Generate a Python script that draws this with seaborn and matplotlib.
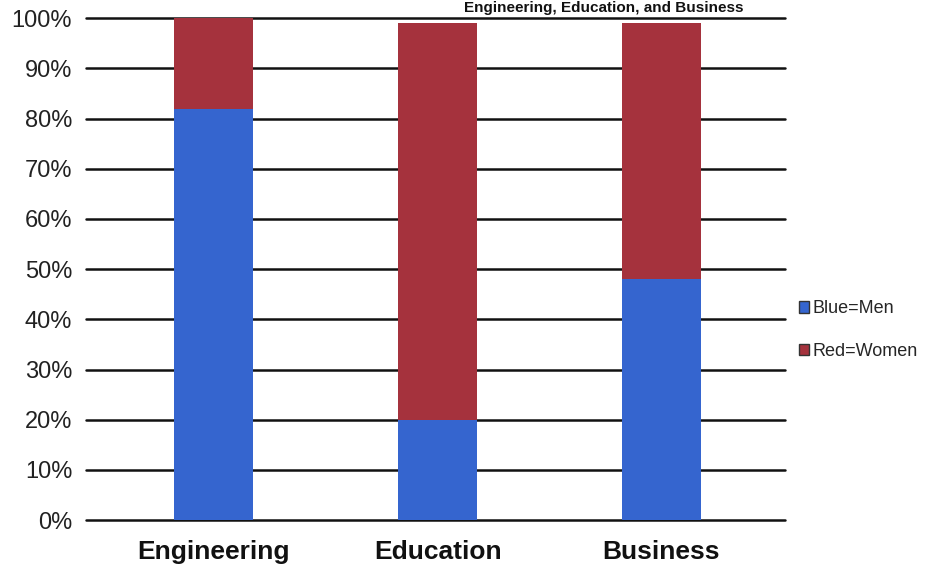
import matplotlib
matplotlib.use("Agg")
import matplotlib.pyplot as plt
import seaborn as sns
import pandas as pd
from matplotlib.patches import Patch

categories = ["Engineering", "Education", "Business"]
men = [82, 20, 48]
women = [18, 79, 51]
y_ticks = [0, 10, 20, 30, 40, 50, 60, 70, 80, 90, 100]
y_tick_labels = [f"{v}%" for v in y_ticks]
title_text = "Engineering, Education, and Business"

blue = "#3565cf"
red = "#a5323d"

sns.set_theme(style="white")
plt.rcParams['font.family'] = ['Liberation Sans', 'DejaVu Sans']

df = pd.DataFrame({"category": categories, "men": men,
                   "total": [m + w for m, w in zip(men, women)]})

fig = plt.figure(figsize=(9.29, 5.69), dpi=100)
ax = fig.add_axes([0.0926, 0.086, 0.752, 0.882])

sns.barplot(data=df, x="category", y="total", color=red, width=0.35,
            saturation=1, linewidth=0, ax=ax, zorder=3)
sns.barplot(data=df, x="category", y="men", color=blue, width=0.35,
            saturation=1, linewidth=0, ax=ax, zorder=4)

ax.set_xlim(-0.57, 2.55)
ax.set_ylim(0, 100)
ax.set_yticks(y_ticks)
ax.set_yticklabels(y_tick_labels, fontsize=17, color="#222222")
ax.set_xlabel("")
ax.set_ylabel("")
ax.tick_params(axis="x", labelsize=19, length=0, pad=14)
for lab in ax.get_xticklabels():
    lab.set_fontweight("bold")
    lab.set_color("#111111")
ax.tick_params(axis="y", length=0, pad=10)
for sp in ax.spines.values():
    sp.set_visible(False)
for v in y_ticks:
    ax.axhline(v, color="#111111", linewidth=1.8, zorder=1, clip_on=False)

handles = [Patch(facecolor=blue, edgecolor="#333333", label="Blue=Men"),
           Patch(facecolor=red, edgecolor="#333333", label="Red=Women")]
fig.legend(handles=handles, loc="center left", bbox_to_anchor=(0.848, 0.42),
           frameon=False, fontsize=13, handlelength=0.6, handleheight=0.6,
           handletextpad=0.15, labelspacing=1.4, borderaxespad=0.2)

fig.text(0.50, 0.998, title_text, fontsize=11, fontweight="bold",
         ha="left", va="top", color="#111111")

fig.savefig("out.png", dpi=100)
